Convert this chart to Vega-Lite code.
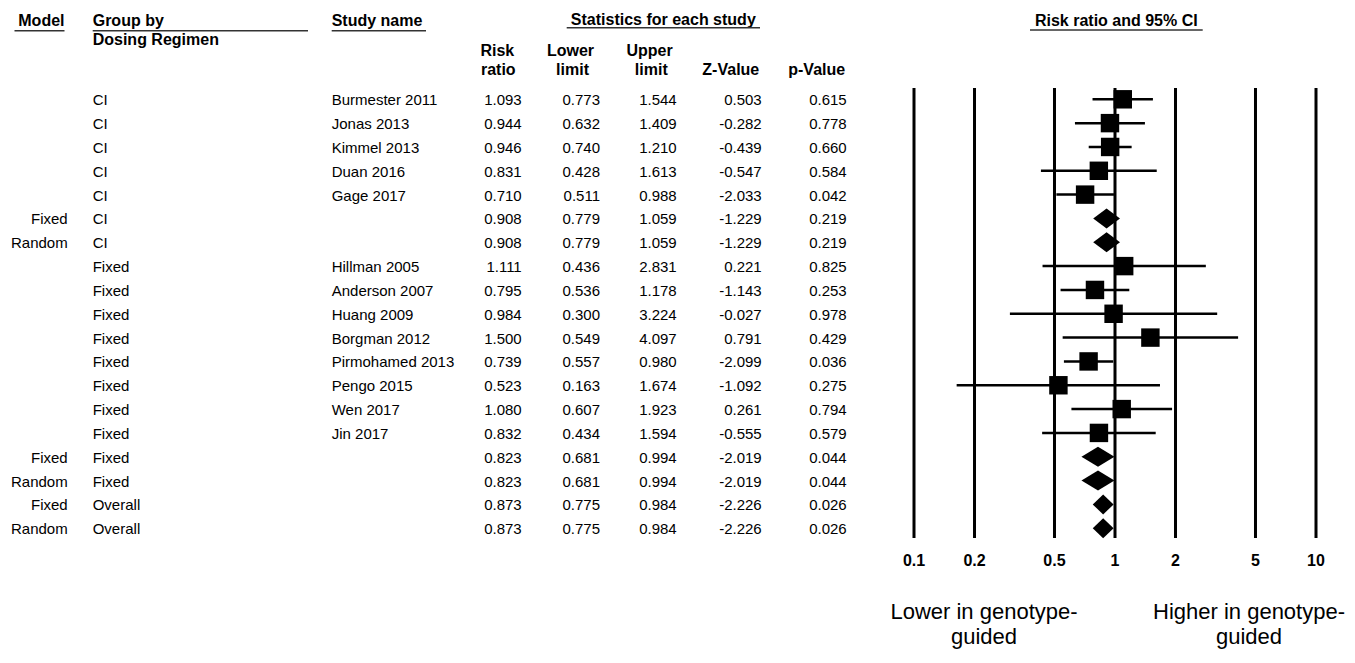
{
  "$schema": "https://vega.github.io/schema/vega-lite/v6.json",
  "width": 1355,
  "height": 663,
  "padding": 0,
  "autosize": {"type": "none"},
  "background": "white",
  "config": {
    "view": {"stroke": null},
    "axis": {"disable": true},
    "text": {"font": "Liberation Sans", "fontSize": 15, "color": "black"}
  },
  "datasets": {
    "rows": [
      {"row": 1, "model": "", "group": "CI", "study": "Burmester 2011", "rr": 1.093, "lo": 0.773, "hi": 1.544, "z": 0.503, "p": 0.615, "kind": "study"},
      {"row": 2, "model": "", "group": "CI", "study": "Jonas 2013", "rr": 0.944, "lo": 0.632, "hi": 1.409, "z": -0.282, "p": 0.778, "kind": "study"},
      {"row": 3, "model": "", "group": "CI", "study": "Kimmel 2013", "rr": 0.946, "lo": 0.740, "hi": 1.210, "z": -0.439, "p": 0.660, "kind": "study"},
      {"row": 4, "model": "", "group": "CI", "study": "Duan 2016", "rr": 0.831, "lo": 0.428, "hi": 1.613, "z": -0.547, "p": 0.584, "kind": "study"},
      {"row": 5, "model": "", "group": "CI", "study": "Gage 2017", "rr": 0.710, "lo": 0.511, "hi": 0.988, "z": -2.033, "p": 0.042, "kind": "study"},
      {"row": 6, "model": "Fixed", "group": "CI", "study": "", "rr": 0.908, "lo": 0.779, "hi": 1.059, "z": -1.229, "p": 0.219, "kind": "pooled"},
      {"row": 7, "model": "Random", "group": "CI", "study": "", "rr": 0.908, "lo": 0.779, "hi": 1.059, "z": -1.229, "p": 0.219, "kind": "pooled"},
      {"row": 8, "model": "", "group": "Fixed", "study": "Hillman 2005", "rr": 1.111, "lo": 0.436, "hi": 2.831, "z": 0.221, "p": 0.825, "kind": "study"},
      {"row": 9, "model": "", "group": "Fixed", "study": "Anderson 2007", "rr": 0.795, "lo": 0.536, "hi": 1.178, "z": -1.143, "p": 0.253, "kind": "study"},
      {"row": 10, "model": "", "group": "Fixed", "study": "Huang 2009", "rr": 0.984, "lo": 0.300, "hi": 3.224, "z": -0.027, "p": 0.978, "kind": "study"},
      {"row": 11, "model": "", "group": "Fixed", "study": "Borgman 2012", "rr": 1.500, "lo": 0.549, "hi": 4.097, "z": 0.791, "p": 0.429, "kind": "study"},
      {"row": 12, "model": "", "group": "Fixed", "study": "Pirmohamed 2013", "rr": 0.739, "lo": 0.557, "hi": 0.980, "z": -2.099, "p": 0.036, "kind": "study"},
      {"row": 13, "model": "", "group": "Fixed", "study": "Pengo 2015", "rr": 0.523, "lo": 0.163, "hi": 1.674, "z": -1.092, "p": 0.275, "kind": "study"},
      {"row": 14, "model": "", "group": "Fixed", "study": "Wen 2017", "rr": 1.080, "lo": 0.607, "hi": 1.923, "z": 0.261, "p": 0.794, "kind": "study"},
      {"row": 15, "model": "", "group": "Fixed", "study": "Jin 2017", "rr": 0.832, "lo": 0.434, "hi": 1.594, "z": -0.555, "p": 0.579, "kind": "study"},
      {"row": 16, "model": "Fixed", "group": "Fixed", "study": "", "rr": 0.823, "lo": 0.681, "hi": 0.994, "z": -2.019, "p": 0.044, "kind": "pooled"},
      {"row": 17, "model": "Random", "group": "Fixed", "study": "", "rr": 0.823, "lo": 0.681, "hi": 0.994, "z": -2.019, "p": 0.044, "kind": "pooled"},
      {"row": 18, "model": "Fixed", "group": "Overall", "study": "", "rr": 0.873, "lo": 0.775, "hi": 0.984, "z": -2.226, "p": 0.026, "kind": "pooled"},
      {"row": 19, "model": "Random", "group": "Overall", "study": "", "rr": 0.873, "lo": 0.775, "hi": 0.984, "z": -2.226, "p": 0.026, "kind": "pooled"}
    ],
    "ticks": [{"v": 0.1}, {"v": 0.2}, {"v": 0.5}, {"v": 1}, {"v": 2}, {"v": 5}, {"v": 10}]
  },
  "resolve": {"scale": {"x": "independent"}},
  "layer": [
    {
      "layer": [
        {
          "data": {"name": "rows"},
          "mark": {"type": "text", "align": "right", "baseline": "middle", "dy": 1},
          "encoding": {
            "x": {"datum": 67.7, "type": "quantitative", "scale": {"domain": [0, 1355], "nice": false, "zero": false}},
            "y": {"field": "row", "type": "quantitative", "scale": {"domain": [-3.167, 24.655], "reverse": true, "nice": false, "zero": false}},
            "text": {"field": "model"}
          }
        },
        {
          "data": {"name": "rows"},
          "mark": {"type": "text", "align": "left", "baseline": "middle", "dy": 1},
          "encoding": {
            "x": {"datum": 92.7, "type": "quantitative"},
            "y": {"field": "row", "type": "quantitative"},
            "text": {"field": "group"}
          }
        },
        {
          "data": {"name": "rows"},
          "mark": {"type": "text", "align": "left", "baseline": "middle", "dy": 1},
          "encoding": {
            "x": {"datum": 331.7, "type": "quantitative"},
            "y": {"field": "row", "type": "quantitative"},
            "text": {"field": "study"}
          }
        },
        {
          "data": {"name": "rows"},
          "mark": {"type": "text", "align": "right", "baseline": "middle", "dy": 1},
          "encoding": {
            "x": {"datum": 521.7, "type": "quantitative"},
            "y": {"field": "row", "type": "quantitative"},
            "text": {"field": "rr", "type": "quantitative", "format": ".3f"}
          }
        },
        {
          "data": {"name": "rows"},
          "mark": {"type": "text", "align": "right", "baseline": "middle", "dy": 1},
          "encoding": {
            "x": {"datum": 600, "type": "quantitative"},
            "y": {"field": "row", "type": "quantitative"},
            "text": {"field": "lo", "type": "quantitative", "format": ".3f"}
          }
        },
        {
          "data": {"name": "rows"},
          "mark": {"type": "text", "align": "right", "baseline": "middle", "dy": 1},
          "encoding": {
            "x": {"datum": 676.7, "type": "quantitative"},
            "y": {"field": "row", "type": "quantitative"},
            "text": {"field": "hi", "type": "quantitative", "format": ".3f"}
          }
        },
        {
          "data": {"name": "rows"},
          "mark": {"type": "text", "align": "right", "baseline": "middle", "dy": 1},
          "encoding": {
            "x": {"datum": 761.7, "type": "quantitative"},
            "y": {"field": "row", "type": "quantitative"},
            "text": {"field": "z", "type": "nominal"}
          }
        },
        {
          "data": {"name": "rows"},
          "mark": {"type": "text", "align": "right", "baseline": "middle", "dy": 1},
          "encoding": {
            "x": {"datum": 846.7, "type": "quantitative"},
            "y": {"field": "row", "type": "quantitative"},
            "text": {"field": "p", "type": "quantitative", "format": ".3f"}
          }
        },
        {
          "data": {"values": [{}]},
          "mark": {"type": "text", "align": "right", "baseline": "middle", "fontWeight": "bold", "fontSize": 16},
          "encoding": {"x": {"datum": 64.5, "type": "quantitative"}, "y": {"datum": -2.286, "type": "quantitative"}, "text": {"value": "Model"}}
        },
        {
          "data": {"values": [{}]},
          "mark": {"type": "text", "align": "left", "baseline": "middle", "fontWeight": "bold", "fontSize": 16},
          "encoding": {"x": {"datum": 92.7, "type": "quantitative"}, "y": {"datum": -2.286, "type": "quantitative"}, "text": {"value": "Group by"}}
        },
        {
          "data": {"values": [{}]},
          "mark": {"type": "text", "align": "left", "baseline": "middle", "fontWeight": "bold", "fontSize": 16},
          "encoding": {"x": {"datum": 92.7, "type": "quantitative"}, "y": {"datum": -1.488, "type": "quantitative"}, "text": {"value": "Dosing Regimen"}}
        },
        {
          "data": {"values": [{}]},
          "mark": {"type": "text", "align": "left", "baseline": "middle", "fontWeight": "bold", "fontSize": 16},
          "encoding": {"x": {"datum": 331.7, "type": "quantitative"}, "y": {"datum": -2.286, "type": "quantitative"}, "text": {"value": "Study name"}}
        },
        {
          "data": {"values": [{}]},
          "mark": {"type": "text", "align": "center", "baseline": "middle", "fontWeight": "bold", "fontSize": 16},
          "encoding": {"x": {"datum": 663.3, "type": "quantitative"}, "y": {"datum": -2.33, "type": "quantitative"}, "text": {"value": "Statistics for each study"}}
        },
        {
          "data": {"values": [{}]},
          "mark": {"type": "text", "align": "center", "baseline": "middle", "fontWeight": "bold", "fontSize": 16},
          "encoding": {"x": {"datum": 1116.3, "type": "quantitative"}, "y": {"datum": -2.286, "type": "quantitative"}, "text": {"value": "Risk ratio and 95% CI"}}
        },
        {
          "data": {"values": [{"t": "Risk", "c": 497.3}, {"t": "Lower", "c": 570.5}, {"t": "Upper", "c": 649.5}]},
          "mark": {"type": "text", "align": "center", "baseline": "middle", "fontWeight": "bold", "fontSize": 16},
          "encoding": {"x": {"field": "c", "type": "quantitative"}, "y": {"datum": -1.027, "type": "quantitative"}, "text": {"field": "t"}}
        },
        {
          "data": {"values": [{"t": "ratio", "c": 498.3}, {"t": "limit", "c": 572.5}, {"t": "limit", "c": 651.3}, {"t": "Z-Value", "c": 730.8}, {"t": "p-Value", "c": 816.7}]},
          "mark": {"type": "text", "align": "center", "baseline": "middle", "fontWeight": "bold", "fontSize": 16},
          "encoding": {"x": {"field": "c", "type": "quantitative"}, "y": {"datum": -0.23, "type": "quantitative"}, "text": {"field": "t"}}
        },
        {
          "data": {"values": [{"a": 14.5, "b": 64.5}, {"a": 92.7, "b": 308}, {"a": 331.7, "b": 426}]},
          "mark": {"type": "rule", "color": "#333333", "strokeWidth": 1.6},
          "encoding": {"x": {"field": "a", "type": "quantitative"}, "x2": {"field": "b"}, "y": {"datum": -1.879, "type": "quantitative"}}
        },
        {
          "data": {"values": [{"a": 566.7, "b": 760}]},
          "mark": {"type": "rule", "color": "#333333", "strokeWidth": 1.6},
          "encoding": {"x": {"field": "a", "type": "quantitative"}, "x2": {"field": "b"}, "y": {"datum": -2.0, "type": "quantitative"}}
        },
        {
          "data": {"values": [{"a": 1030, "b": 1202.7}]},
          "mark": {"type": "rule", "color": "#333333", "strokeWidth": 1.6},
          "encoding": {"x": {"field": "a", "type": "quantitative"}, "x2": {"field": "b"}, "y": {"datum": -1.908, "type": "quantitative"}}
        },
        {
          "data": {"values": [{"t": ["Lower in genotype-", "guided"], "c": 984}, {"t": ["Higher in genotype-", "guided"], "c": 1249}]},
          "mark": {"type": "text", "align": "center", "baseline": "alphabetic", "fontSize": 22, "lineHeight": 25},
          "encoding": {"x": {"field": "c", "type": "quantitative"}, "y": {"datum": 22.81, "type": "quantitative"}, "text": {"field": "t"}}
        }
      ]
    },
    {
      "layer": [
        {
          "data": {"name": "ticks"},
          "mark": {"type": "rule", "color": "black", "strokeWidth": 3},
          "encoding": {
            "x": {"field": "v", "type": "quantitative", "scale": {"type": "log", "domain": [0.1, 10], "range": [914, 1316], "nice": false}},
            "y": {"datum": 0.526, "type": "quantitative"},
            "y2": {"datum": 19.41}
          }
        },
        {
          "data": {"name": "ticks"},
          "mark": {"type": "text", "align": "center", "baseline": "middle", "fontWeight": "bold", "fontSize": 16},
          "encoding": {
            "x": {"field": "v", "type": "quantitative"},
            "y": {"datum": 20.375, "type": "quantitative"},
            "text": {"field": "v", "type": "quantitative", "format": "~g"}
          }
        },
        {
          "data": {"name": "rows"},
          "transform": [{"filter": "datum.kind === 'study'"}],
          "mark": {"type": "rule", "color": "black", "strokeWidth": 2.5},
          "encoding": {
            "x": {"field": "lo", "type": "quantitative"},
            "x2": {"field": "hi"},
            "y": {"field": "row", "type": "quantitative"}
          }
        },
        {
          "data": {"name": "rows"},
          "transform": [{"filter": "datum.kind === 'study'"}],
          "mark": {"type": "point", "shape": "square", "filled": true, "color": "black", "opacity": 1, "size": 340},
          "encoding": {
            "x": {"field": "rr", "type": "quantitative"},
            "y": {"field": "row", "type": "quantitative"}
          }
        },
        {
          "data": {"name": "rows"},
          "transform": [{"filter": "datum.kind === 'pooled'"}, {"fold": ["lo", "rr", "hi"], "as": ["key", "val"]}],
          "mark": {"type": "area", "color": "black", "orient": "vertical", "yOffset": {"expr": "datum.key === 'rr' ? -10 : 0"}, "y2Offset": {"expr": "datum.key === 'rr' ? 10 : 0"}},
          "encoding": {
            "x": {"field": "val", "type": "quantitative"},
            "y": {"field": "row", "type": "quantitative", "stack": null},
            "y2": {"field": "row"},
            "detail": {"field": "row", "type": "nominal"}
          }
        }
      ]
    }
  ]
}
